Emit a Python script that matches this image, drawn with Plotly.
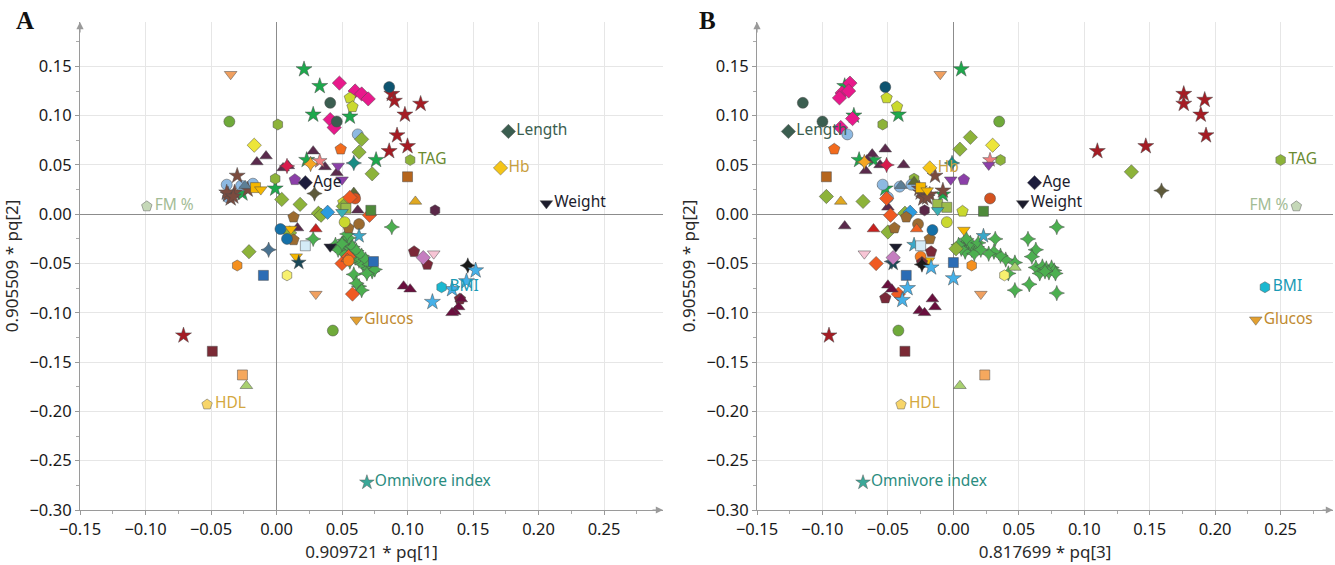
import plotly.graph_objects as go

# ---------------- data (x, y) per marker group, panel A and panel B ----------------
red_star_a = [(0.088,0.122),(0.090,0.115),(0.110,0.112),(0.098,0.101),(0.092,0.080),(0.100,0.069),(0.086,0.064),(-0.071,-0.123)]
red_star_b = [(0.176,0.122),(0.176,0.112),(0.192,0.116),(0.189,0.101),(0.193,0.080),(0.147,0.069),(0.110,0.064),(-0.095,-0.123)]
green_star_a = [(0.021,0.147),(0.033,0.130),(0.028,0.101),(0.056,0.099),(0.023,0.055),(0.076,0.055),(-0.001,0.026),(-0.026,0.021)]
green_star_b = [(0.006,0.147),(-0.083,0.130),(-0.076,0.100),(-0.042,0.101),(-0.072,0.055),(-0.061,0.055),(-0.052,0.026),(-0.008,0.020)]
pink_diamond_a = [(0.048,0.133),(0.060,0.125),(0.065,0.122),(0.070,0.117),(0.041,0.096),(0.044,0.088)]
pink_diamond_b = [(-0.079,0.133),(-0.085,0.123),(-0.080,0.125),(-0.087,0.118),(-0.077,0.097),(-0.086,0.088)]
yg_pentagon_a = [(0.056,0.118),(0.058,0.109),(0.051,0.012)]
yg_pentagon_b = [(-0.051,0.118),(-0.043,0.109),(0.007,0.003)]
slate_circle_a = [(0.041,0.113),(0.046,0.094)]
slate_circle_b = [(-0.115,0.113),(-0.100,0.094)]
teal_circle_a = [(0.086,0.129)]
teal_circle_b = [(-0.052,0.129)]
olive_circle_a = [(-0.036,0.094),(0.043,-0.118)]
olive_circle_b = [(0.035,0.094),(-0.042,-0.118)]
olive_hexagon_a = [(0.001,0.091),(-0.001,0.036)]
olive_hexagon_b = [(-0.054,0.091),(-0.030,0.036),(0.036,0.055)]
lblue_circle_a = [(0.062,0.081),(-0.038,0.030),(-0.037,0.017),(-0.027,0.029),(-0.018,0.031)]
lblue_circle_b = [(-0.081,0.081),(-0.054,0.030),(-0.041,0.028),(-0.032,0.030),(-0.050,0.017)]
yg_diamond_a = [(0.065,0.076),(0.063,0.063),(0.073,0.041),(0.004,0.015),(0.018,0.010),(0.032,0.001),(0.034,-0.001),(-0.021,-0.038),(0.010,-0.019),(0.051,0.008)]
yg_diamond_b = [(0.013,0.078),(0.005,0.066),(0.136,0.043),(-0.097,0.018),(-0.069,0.013),(-0.037,0.001),(-0.050,-0.018),(0.002,-0.035)]
yellow_diamond_a = [(-0.017,0.070)]
yellow_diamond_b = [(0.030,0.070)]
plum_triangle_a = [(-0.015,0.053),(-0.008,0.059),(0.028,0.064),(0.005,0.047),(0.009,0.049),(0.037,0.048),(0.046,0.042),(0.062,0.004),(0.016,-0.014)]
plum_triangle_b = [(-0.052,0.066),(-0.062,0.061),(-0.066,0.055),(-0.056,0.050),(-0.038,0.050),(-0.067,0.044),(-0.083,-0.012),(-0.050,0.007)]
olive_triangle_a = [(0.059,0.022)]
olive_triangle_b = [(-0.030,0.033)]
orange_pentagon_a = [(0.049,0.066)]
orange_pentagon_b = [(-0.091,0.066)]
salmon_star_a = [(0.033,0.054)]
salmon_star_b = [(0.028,0.055)]
gold_4star_a = [(0.026,0.051)]
gold_4star_b = [(-0.068,0.053)]
purple_tridown_a = [(0.047,0.049),(0.050,0.035)]
purple_tridown_b = [(-0.002,0.035),(0.027,0.050)]
purple_pentagon_a = [(0.014,0.035)]
purple_pentagon_b = [(0.008,0.035)]
teal_4star_a = [(0.059,0.052)]
teal_4star_b = [(-0.001,0.052)]
crimson_4star_a = [(0.008,0.049)]
crimson_4star_b = [(-0.051,0.050)]
brown_star_a = [(-0.030,0.039),(-0.037,0.020),(-0.032,0.022),(-0.035,0.016),(-0.038,0.022),(-0.022,0.025),(-0.033,0.018)]
brown_star_b = [(-0.014,0.039),(-0.025,0.022),(-0.022,0.019),(-0.018,0.020),(-0.023,0.016),(-0.026,0.026),(-0.008,0.024),(-0.020,0.017)]
dolive_4star_a = [(0.029,0.021)]
dolive_4star_b = [(0.159,0.024)]
slate_triangle_a = [(-0.024,0.029)]
slate_triangle_b = [(-0.040,0.029)]
gold_square_a = [(-0.016,0.027)]
gold_square_b = [(-0.025,0.027)]
gold_tridown_a = [(-0.012,0.025),(0.015,-0.043),(0.011,-0.015)]
gold_tridown_b = [(-0.020,0.024),(0.008,-0.016),(-0.019,-0.047)]
ored_circle_a = [(0.060,0.016)]
ored_circle_b = [(0.028,0.016)]
orange_diamond_a = [(0.056,0.017),(0.071,-0.001),(0.050,-0.050),(0.058,-0.081),(0.055,-0.043)]
orange_diamond_b = [(-0.051,0.016),(-0.048,-0.001),(-0.059,-0.050),(-0.042,-0.081)]
green_square_a = [(0.072,0.004)]
green_square_b = [(0.023,0.003)]
lolive_square_a = [(0.053,0.006)]
lolive_square_b = [(-0.012,0.010),(-0.005,0.007)]
brown_square_a = [(0.100,0.038)]
brown_square_b = [(-0.097,0.038)]
gold_triangle_a = [(0.106,0.013)]
gold_triangle_b = [(-0.086,0.013)]
plum_hexagon_a = [(0.121,0.004)]
plum_hexagon_b = [(-0.022,0.004)]
blue_diamond_a = [(0.039,0.002)]
blue_diamond_b = [(-0.033,0.002)]
teal_tridown_a = [(0.050,0.002)]
teal_tridown_b = [(-0.012,0.004)]
brown_pentagon_a = [(0.013,-0.003),(0.013,-0.026),(0.055,-0.014)]
brown_pentagon_b = [(-0.045,-0.014),(-0.036,-0.003),(-0.018,-0.025)]
brown_circle_a = [(0.063,-0.010)]
brown_circle_b = [(-0.027,-0.010)]
blue_circle_a = [(0.003,-0.015),(0.008,-0.025)]
blue_circle_b = [(-0.016,-0.016)]
red_triangle_a = [(0.030,-0.015)]
red_triangle_b = [(-0.061,-0.015)]
orange_triangle_a = [(0.054,-0.045)]
orange_triangle_b = [(-0.028,-0.015)]
yg_circle_a = [(0.052,-0.008)]
yg_circle_b = [(-0.005,-0.008)]
cyan_star_a = [(0.063,-0.022)]
cyan_star_b = [(0.023,-0.022),(-0.030,-0.031)]
green_4star_a = [(0.088,-0.013),(0.028,-0.025),(0.045,-0.031),(0.048,-0.033),(0.052,-0.026),(0.053,-0.037),
                 (0.055,-0.029),(0.057,-0.040),(0.058,-0.033),(0.060,-0.044),(0.061,-0.037),(0.063,-0.047),
                 (0.065,-0.042),(0.066,-0.051),(0.068,-0.046),(0.070,-0.055),(0.071,-0.051),(0.073,-0.058),
                 (0.075,-0.056),(0.050,-0.038),(0.047,-0.036),(0.055,-0.024),(0.059,-0.061),(0.063,-0.073),
                 (0.065,-0.077),(0.061,-0.070),(0.056,-0.048),(0.050,-0.030),(0.054,-0.020),(0.069,-0.060)]
green_4star_b = [(0.079,-0.013),(0.057,-0.025),(0.063,-0.036),(0.060,-0.043),(0.063,-0.054),(0.066,-0.060),
                 (0.058,-0.071),(0.047,-0.077),(0.079,-0.080),(0.047,-0.049),(0.040,-0.046),(0.036,-0.042),
                 (0.031,-0.038),(0.027,-0.040),(0.032,-0.025),(0.008,-0.029),(0.011,-0.033),(0.014,-0.036),
                 (0.018,-0.033),(0.009,-0.038),(0.006,-0.035),(0.013,-0.029),(0.016,-0.040),(0.019,-0.029),
                 (0.021,-0.036),(0.068,-0.053),(0.071,-0.055),(0.075,-0.054),(0.077,-0.057),(0.073,-0.059),
                 (0.078,-0.060),(0.070,-0.058),(0.042,-0.060),(0.010,-0.025),(0.004,-0.031)]
lblue_square_a = [(0.022,-0.032)]
lblue_square_b = [(-0.025,-0.032)]
black_tridown_a = [(0.041,-0.033)]
black_tridown_b = [(-0.044,-0.033)]
slate_4star_a = [(-0.006,-0.036)]
slate_4star_b = [(-0.047,-0.048)]
orange_hexagon_a = [(-0.030,-0.052)]
orange_hexagon_b = [(0.014,-0.052)]
orange_circle_a = [(0.055,-0.047)]
orange_circle_b = [(-0.025,-0.043)]
blue_square_a = [(-0.010,-0.062),(0.074,-0.048)]
blue_square_b = [(-0.036,-0.062),(0.000,-0.049)]
yellow_hexagon_a = [(0.008,-0.062)]
yellow_hexagon_b = [(0.039,-0.062)]
dteal_star_a = [(0.017,-0.049)]
dteal_star_b = [(-0.046,-0.050)]
lorange_tridown_a = [(0.030,-0.081),(-0.035,0.142)]
lorange_tridown_b = [(0.021,-0.081),(-0.010,0.142)]
maroon_pentagon_a = [(0.105,-0.038),(0.115,-0.051),(0.140,-0.086)]
maroon_pentagon_b = [(-0.017,-0.038),(-0.052,-0.085),(-0.024,-0.049)]
ppurple_diamond_a = [(0.112,-0.044)]
ppurple_diamond_b = [(-0.046,-0.044)]
pink_tridown_a = [(0.120,-0.040)]
pink_tridown_b = [(-0.068,-0.040)]
black_4star_a = [(0.146,-0.052)]
black_4star_b = [(-0.024,-0.051)]
lblue_star_a = [(0.152,-0.057),(0.145,-0.068),(0.119,-0.089),(0.134,-0.076)]
lblue_star_b = [(0.000,-0.065),(-0.017,-0.054),(-0.035,-0.075),(-0.039,-0.087)]
maroon_triangle_a = [(0.097,-0.073),(0.102,-0.076),(0.139,-0.094),(0.136,-0.099),(0.134,-0.100),(0.141,-0.086)]
maroon_triangle_b = [(-0.050,-0.072),(-0.047,-0.076),(-0.026,-0.098),(-0.022,-0.100),(-0.016,-0.086),(-0.014,-0.094)]
maroon_square_a = [(-0.049,-0.139)]
maroon_square_b = [(-0.037,-0.139)]
lorange_square_a = [(-0.026,-0.163)]
lorange_square_b = [(0.024,-0.163)]
lgreen_triangle_a = [(-0.023,-0.174)]
lgreen_triangle_b = [(0.005,-0.174),(0.047,-0.054)]

# labelled variables
label_names = ["FM %", "HDL", "Omnivore index", "Glucos", "Length", "Hb", "Weight", "TAG", "Age", "BMI"]
label_x_a = [-0.099, -0.053, 0.069, 0.061, 0.177, 0.171, 0.206, 0.102, 0.022, 0.126]
label_y_a = [0.008, -0.193, -0.272, -0.107, 0.084, 0.047, 0.011, 0.055, 0.032, -0.074]
label_x_b = [0.262, -0.040, -0.069, 0.231, -0.126, -0.018, 0.053, 0.250, 0.062, 0.238]
label_y_b = label_y_a

x_ticks = [-0.15, -0.10, -0.05, 0.00, 0.05, 0.10, 0.15, 0.20, 0.25]
y_ticks = [-0.30, -0.25, -0.20, -0.15, -0.10, -0.05, 0.00, 0.05, 0.10, 0.15]

# ---------------- styles ----------------
STYLE = {
    "red_star": ("star", "#A51C24", 12), "green_star": ("star", "#1DA84C", 12),
    "pink_diamond": ("diamond", "#E8198B", 11), "yg_pentagon": ("pentagon", "#CAD92E", 12),
    "slate_circle": ("circle", "#3B5E50", 11), "teal_circle": ("circle", "#0E5470", 11),
    "olive_circle": ("circle", "#6FAA3A", 11), "olive_hexagon": ("hexagon", "#8DB33A", 11),
    "lblue_circle": ("circle", "#8DB9E2", 11), "yg_diamond": ("diamond", "#8DB33A", 11),
    "yellow_diamond": ("diamond", "#EDE53A", 11), "plum_triangle": ("triangle-up", "#5A2A4C", 11),
    "olive_triangle": ("triangle-up", "#5E6B35", 11), "orange_pentagon": ("pentagon", "#F26B1D", 12),
    "salmon_star": ("star", "#F08080", 11), "gold_4star": ("star-diamond", "#F5A623", 11),
    "purple_tridown": ("triangle-down", "#8B3FA8", 11), "purple_pentagon": ("pentagon", "#8B3FA8", 12),
    "teal_4star": ("star-diamond", "#1A8C84", 11), "crimson_4star": ("star-diamond", "#D81B4C", 11),
    "brown_star": ("star", "#7B4B3E", 12), "dolive_4star": ("star-diamond", "#5E5A3A", 11),
    "slate_triangle": ("triangle-up", "#5D7F96", 11), "gold_square": ("square", "#F5B700", 10),
    "gold_tridown": ("triangle-down", "#F5B700", 11), "ored_circle": ("circle", "#D4521F", 11),
    "orange_diamond": ("diamond", "#F05A22", 11), "green_square": ("square", "#4E8A3A", 10),
    "lolive_square": ("square", "#9BBB4A", 10), "brown_square": ("square", "#B5651D", 10),
    "gold_triangle": ("triangle-up", "#E0A820", 11), "plum_hexagon": ("hexagon", "#5A2848", 11),
    "blue_diamond": ("diamond", "#2B9BE0", 11), "teal_tridown": ("triangle-down", "#3AB0B5", 11),
    "brown_pentagon": ("pentagon", "#9C6B30", 12), "brown_circle": ("circle", "#9C6B30", 11),
    "blue_circle": ("circle", "#1470A8", 11), "red_triangle": ("triangle-up", "#C8201E", 11),
    "orange_triangle": ("triangle-up", "#F06020", 11), "yg_circle": ("circle", "#CAD92E", 11),
    "cyan_star": ("star", "#3AA8C8", 11), "green_4star": ("star-diamond", "#4CAF50", 11),
    "lblue_square": ("square", "#D4EBF7", 10), "black_tridown": ("triangle-down", "#1C1C2C", 11),
    "slate_4star": ("star-diamond", "#4A7290", 11), "orange_hexagon": ("hexagon", "#F5901E", 11),
    "orange_circle": ("circle", "#F57A1E", 11), "blue_square": ("square", "#2B6CB5", 10),
    "yellow_hexagon": ("hexagon", "#F7F06E", 11), "dteal_star": ("star", "#1A4858", 11),
    "lorange_tridown": ("triangle-down", "#F0A060", 11), "maroon_pentagon": ("pentagon", "#7A2838", 12),
    "ppurple_diamond": ("diamond", "#C57EC0", 11), "pink_tridown": ("triangle-down", "#F7C5D5", 11),
    "black_4star": ("star-diamond", "#1A1A1A", 11), "lblue_star": ("star", "#45B0E8", 12),
    "maroon_triangle": ("triangle-up", "#6A0F3E", 11), "maroon_square": ("square", "#7B2A35", 10),
    "lorange_square": ("square", "#F5A85E", 10), "lgreen_triangle": ("triangle-up", "#A8D070", 11),
}
SERIES = [
    ("green_4star", green_4star_a, green_4star_b),
    ("red_star", red_star_a, red_star_b), ("green_star", green_star_a, green_star_b),
    ("pink_diamond", pink_diamond_a, pink_diamond_b), ("yg_pentagon", yg_pentagon_a, yg_pentagon_b),
    ("slate_circle", slate_circle_a, slate_circle_b), ("teal_circle", teal_circle_a, teal_circle_b),
    ("olive_circle", olive_circle_a, olive_circle_b), ("olive_hexagon", olive_hexagon_a, olive_hexagon_b),
    ("lblue_circle", lblue_circle_a, lblue_circle_b), ("yg_diamond", yg_diamond_a, yg_diamond_b),
    ("yellow_diamond", yellow_diamond_a, yellow_diamond_b), ("plum_triangle", plum_triangle_a, plum_triangle_b),
    ("olive_triangle", olive_triangle_a, olive_triangle_b), ("orange_pentagon", orange_pentagon_a, orange_pentagon_b),
    ("salmon_star", salmon_star_a, salmon_star_b), ("gold_4star", gold_4star_a, gold_4star_b),
    ("purple_tridown", purple_tridown_a, purple_tridown_b), ("purple_pentagon", purple_pentagon_a, purple_pentagon_b),
    ("teal_4star", teal_4star_a, teal_4star_b), ("crimson_4star", crimson_4star_a, crimson_4star_b),
    ("brown_star", brown_star_a, brown_star_b), ("dolive_4star", dolive_4star_a, dolive_4star_b),
    ("slate_triangle", slate_triangle_a, slate_triangle_b), ("gold_square", gold_square_a, gold_square_b),
    ("gold_tridown", gold_tridown_a, gold_tridown_b), ("ored_circle", ored_circle_a, ored_circle_b),
    ("orange_diamond", orange_diamond_a, orange_diamond_b), ("green_square", green_square_a, green_square_b),
    ("lolive_square", lolive_square_a, lolive_square_b), ("brown_square", brown_square_a, brown_square_b),
    ("gold_triangle", gold_triangle_a, gold_triangle_b), ("plum_hexagon", plum_hexagon_a, plum_hexagon_b),
    ("blue_diamond", blue_diamond_a, blue_diamond_b), ("teal_tridown", teal_tridown_a, teal_tridown_b),
    ("brown_pentagon", brown_pentagon_a, brown_pentagon_b), ("brown_circle", brown_circle_a, brown_circle_b),
    ("blue_circle", blue_circle_a, blue_circle_b), ("red_triangle", red_triangle_a, red_triangle_b),
    ("orange_triangle", orange_triangle_a, orange_triangle_b), ("yg_circle", yg_circle_a, yg_circle_b),
    ("cyan_star", cyan_star_a, cyan_star_b), ("lblue_square", lblue_square_a, lblue_square_b),
    ("black_tridown", black_tridown_a, black_tridown_b), ("slate_4star", slate_4star_a, slate_4star_b),
    ("orange_hexagon", orange_hexagon_a, orange_hexagon_b), ("orange_circle", orange_circle_a, orange_circle_b),
    ("blue_square", blue_square_a, blue_square_b), ("yellow_hexagon", yellow_hexagon_a, yellow_hexagon_b),
    ("dteal_star", dteal_star_a, dteal_star_b), ("lorange_tridown", lorange_tridown_a, lorange_tridown_b),
    ("maroon_pentagon", maroon_pentagon_a, maroon_pentagon_b), ("ppurple_diamond", ppurple_diamond_a, ppurple_diamond_b),
    ("pink_tridown", pink_tridown_a, pink_tridown_b), ("black_4star", black_4star_a, black_4star_b),
    ("lblue_star", lblue_star_a, lblue_star_b), ("maroon_triangle", maroon_triangle_a, maroon_triangle_b),
    ("maroon_square", maroon_square_a, maroon_square_b), ("lorange_square", lorange_square_a, lorange_square_b),
    ("lgreen_triangle", lgreen_triangle_a, lgreen_triangle_b),
]
LABEL_STYLE = {
    "FM %": ("pentagon", "#C5D8B8", "#A3BC95"), "HDL": ("pentagon", "#F7D56A", "#D4A840"),
    "Omnivore index": ("star", "#3AA898", "#2A8C80"), "Glucos": ("triangle-down", "#E3A030", "#C08A30"),
    "Length": ("diamond", "#3B5E50", "#3B5E50"), "Hb": ("diamond", "#F5C518", "#C8A040"),
    "Weight": ("triangle-down", "#1C1C2C", "#1C1C2C"), "TAG": ("hexagon", "#8DB33A", "#6A8A30"),
    "Age": ("diamond", "#1C1C3C", "#1C1C2C"), "BMI": ("hexagon", "#1AB8D0", "#1A9AB5"),
}

FONT = "Noto Sans"
fig = go.Figure()

for name, pa, pb in SERIES:
    sym, col, size = STYLE[name]
    for pts, xa, ya in ((pa, "x", "y"), (pb, "x2", "y2")):
        fig.add_trace(go.Scatter(
            x=[p[0] for p in pts], y=[p[1] for p in pts], mode="markers",
            xaxis=xa, yaxis=ya, showlegend=False, hoverinfo="skip",
            marker=dict(symbol=sym, color=col, size=size, line=dict(color="#4A4A4A", width=0.5))))

for xs, ys, xa, ya in ((label_x_a, label_y_a, "x", "y"), (label_x_b, label_y_b, "x2", "y2")):
    for i, nm in enumerate(label_names):
        sym, mcol, tcol = LABEL_STYLE[nm]
        pos = "middle left" if (xa == "x2" and nm == "FM %") else "middle right"
        fig.add_trace(go.Scatter(
            x=[xs[i]], y=[ys[i]], mode="markers+text", text=[nm], textposition=pos,
            textfont=dict(family=FONT, size=15.5, color=tcol), xaxis=xa, yaxis=ya,
            showlegend=False, hoverinfo="skip",
            marker=dict(symbol=sym, color=mcol, size=11, line=dict(color="#5A5A5A", width=0.5))))

W, H = 1335, 565
ydom = [55 / H, 543 / H]
axis_common = dict(
    automargin=False,
    showgrid=True, gridcolor="#E6E6E6", gridwidth=1,
    zeroline=True, zerolinecolor="#8C8C8C", zerolinewidth=1.2,
    showline=True, linecolor="#9A9A9A", linewidth=1.2,
    ticks="outside", ticklen=4, tickcolor="#9A9A9A",
    tickfont=dict(family=FONT, size=16.5, color="#1A1A1A"), tickformat=".2f",
    minor=dict(ticks="outside", ticklen=3, tickcolor="#AAAAAA", dtick=0.025, tick0=0, showgrid=False),
)
xa_common = dict(axis_common, tickmode="array", tickvals=x_ticks)
ya_common = dict(axis_common, tickmode="array", tickvals=y_ticks)
TFONT = dict(family=FONT, size=17, color="#2A2A2A")

fig.update_layout(
    width=W, height=H, margin=dict(l=0, r=0, t=0, b=0),
    plot_bgcolor="white", paper_bgcolor="white",
    xaxis=dict(xa_common, domain=[80 / W, 663 / W], range=[-0.15, 0.295], anchor="y",
               title=dict(text="0.909721 * pq[1]", font=TFONT, standoff=0)),
    yaxis=dict(ya_common, domain=ydom, range=[-0.30, 0.195], anchor="x",
               title=dict(text="0.905509 * pq[2]", font=TFONT, standoff=6)),
    xaxis2=dict(xa_common, domain=[757 / W, 1333 / W], range=[-0.15, 0.29], anchor="y2",
                title=dict(text="0.817699 * pq[3]", font=TFONT, standoff=0)),
    yaxis2=dict(ya_common, domain=ydom, range=[-0.30, 0.195], anchor="x2",
                title=dict(text="0.905509 * pq[2]", font=TFONT, standoff=6)),
)

# axis arrowheads
for xr, yr, xmax in (("x", "y", 0.295), ("x2", "y2", 0.29)):
    fig.add_annotation(x=xmax, y=-0.30, xref=xr, yref=yr, ax=-12, ay=0, showarrow=True,
                       arrowhead=2, arrowsize=1.2, arrowwidth=1.2, arrowcolor="#9A9A9A", text="")
    fig.add_annotation(x=-0.15, y=0.195, xref=xr, yref=yr, ax=0, ay=12, showarrow=True,
                       arrowhead=2, arrowsize=1.2, arrowwidth=1.2, arrowcolor="#9A9A9A", text="")

# panel letters
for txt, px in (("A", 14), ("B", 697)):
    fig.add_annotation(x=px / W, y=1 - 5 / H, xref="paper", yref="paper", xanchor="left", yanchor="top",
                       text="<b>%s</b>" % txt, showarrow=False,
                       font=dict(family="Liberation Serif", size=25, color="#111111"))

fig.write_html("out.html")
